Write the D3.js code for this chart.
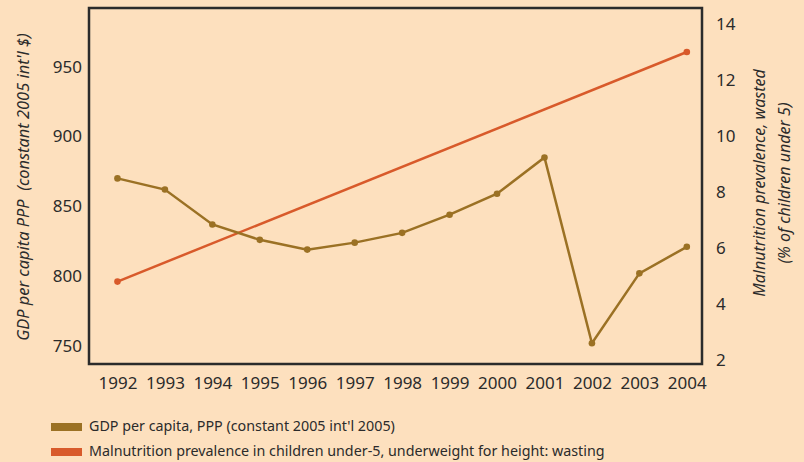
<!DOCTYPE html>
<html>
<head>
<meta charset="utf-8">
<script src="https://cdn.jsdelivr.net/npm/d3@7"></script>
<style>
  body { margin: 0; background: #fde0be; }
  svg { display: block; font-family: "Noto Sans", sans-serif; }
</style>
</head>
<body>
<script>
// data
const YEARS = [1992, 1993, 1994, 1995, 1996, 1997, 1998, 1999, 2000, 2001, 2002, 2003, 2004];
const GDP = [870, 862, 837, 826, 819, 824, 831, 844, 859, 885, 752, 802, 821];
const WASTED_YEARS = [1992, 2004];
const WASTED = [4.8, 13.0];
const GDP_TICKS = [750, 800, 850, 900, 950];
const WASTED_TICKS = [2, 4, 6, 8, 10, 12, 14];
const LEGEND = [
  "GDP per capita, PPP (constant 2005 int'l 2005)",
  "Malnutrition prevalence in children under-5, underweight for height: wasting"
];

const width = 804,
  height = 462,
  plot = { left: 89, right: 702, top: 8, bottom: 364 },
  gdpColor = "#9b7124",
  wastedColor = "#d85a2b",
  ink = "#2b2b2b";

const svg = d3
  .select("body")
  .append("svg")
  .attr("width", width)
  .attr("height", height);

svg.append("rect").attr("width", width).attr("height", height).attr("fill", "#fde0be");

const xScale = d3.scaleLinear().domain([1991.4, 2004.32]).range([plot.left, plot.right]);
const yLeft = d3.scaleLinear().domain([737.1, 992]).range([plot.bottom, plot.top]);
const yRight = d3.scaleLinear().domain([1.857, 14.571]).range([plot.bottom, plot.top]);

// axes, no tick marks
const xAxis = d3.axisBottom(xScale).tickValues(YEARS).tickFormat(d3.format("d")).tickSize(0).tickPadding(13);
svg.append("g")
  .attr("transform", `translate(0, ${plot.bottom})`)
  .call(xAxis)
  .call(g => g.select(".domain").remove());

const leftAxis = d3.axisLeft(yLeft).tickValues(GDP_TICKS).tickSize(0).tickPadding(7);
svg.append("g")
  .attr("transform", `translate(${plot.left}, 0)`)
  .call(leftAxis)
  .call(g => g.select(".domain").remove());

const rightAxis = d3.axisRight(yRight).tickValues(WASTED_TICKS).tickSize(0).tickPadding(14);
svg.append("g")
  .attr("transform", `translate(${plot.right}, 0)`)
  .call(rightAxis)
  .call(g => g.select(".domain").remove());

svg.selectAll(".tick text")
  .attr("font-family", "Noto Sans, sans-serif")
  .attr("font-size", 17)
  .attr("fill", ink);

// frame
svg.append("rect")
  .attr("x", plot.left)
  .attr("y", plot.top)
  .attr("width", plot.right - plot.left)
  .attr("height", plot.bottom - plot.top)
  .attr("fill", "none")
  .attr("stroke", ink)
  .attr("stroke-width", 2.5);

// axis titles
svg.append("text")
  .attr("transform", `translate(25, 187) rotate(-90)`)
  .attr("text-anchor", "middle")
  .attr("dominant-baseline", "middle")
  .attr("font-style", "italic")
  .attr("font-size", 16.4)
  .attr("fill", ink)
  .attr("xml:space", "preserve")
  .text("GDP per capita PPP  (constant 2005 int'l $)");

const rightTitle = svg.append("text")
  .attr("transform", `translate(760, 183) rotate(-90)`)
  .attr("text-anchor", "middle")
  .attr("font-style", "italic")
  .attr("font-size", 16)
  .attr("fill", ink);
rightTitle.append("tspan").attr("x", 0).attr("y", 5).text("Malnutrition prevalence, wasted");
rightTitle.append("tspan").attr("x", 0).attr("y", 30).text("(% of children under 5)");

// series
const gdpData = YEARS.map((y, i) => ({ year: y, value: GDP[i] }));
const wastedData = WASTED_YEARS.map((y, i) => ({ year: y, value: WASTED[i] }));

svg.append("path")
  .datum(wastedData)
  .attr("fill", "none")
  .attr("stroke", wastedColor)
  .attr("stroke-width", 2.5)
  .attr("d", d3.line().x(d => xScale(d.year)).y(d => yRight(d.value)));

svg.selectAll(".wdot")
  .data(wastedData)
  .enter()
  .append("circle")
  .attr("class", "wdot")
  .attr("cx", d => xScale(d.year))
  .attr("cy", d => yRight(d.value))
  .attr("r", 3.3)
  .attr("fill", wastedColor);

svg.append("path")
  .datum(gdpData)
  .attr("fill", "none")
  .attr("stroke", gdpColor)
  .attr("stroke-width", 2.5)
  .attr("d", d3.line().x(d => xScale(d.year)).y(d => yLeft(d.value)));

svg.selectAll(".gdot")
  .data(gdpData)
  .enter()
  .append("circle")
  .attr("class", "gdot")
  .attr("cx", d => xScale(d.year))
  .attr("cy", d => yLeft(d.value))
  .attr("r", 3.3)
  .attr("fill", gdpColor);

// legend
const legend = svg.selectAll(".legend")
  .data(LEGEND)
  .enter()
  .append("g")
  .attr("class", "legend")
  .attr("transform", (d, i) => `translate(51, ${427 + i * 25})`);

legend.append("rect")
  .attr("x", 0)
  .attr("y", -4)
  .attr("width", 31)
  .attr("height", 8)
  .attr("fill", (d, i) => (i === 0 ? gdpColor : wastedColor));

legend.append("text")
  .attr("x", 38)
  .attr("y", 0)
  .attr("dominant-baseline", "middle")
  .attr("font-size", 14.3)
  .attr("fill", ink)
  .text(d => d);
</script>
</body>
</html>
